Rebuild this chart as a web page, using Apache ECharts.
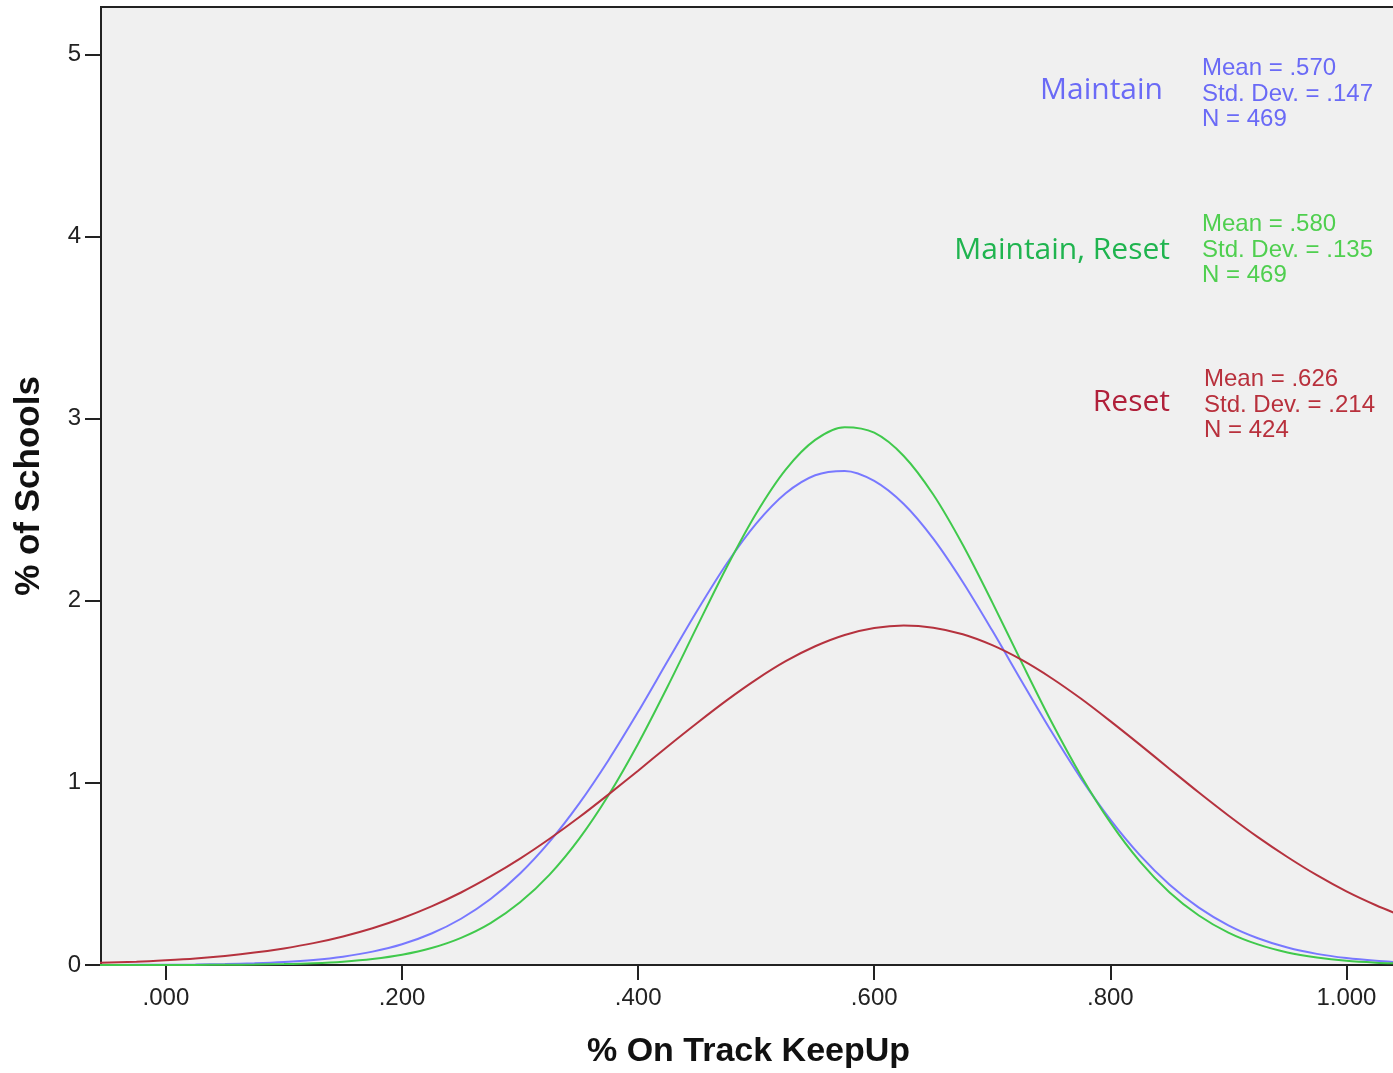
<!DOCTYPE html>
<html>
<head>
<meta charset="utf-8">
<script src="https://cdn.jsdelivr.net/npm/echarts@6/dist/echarts.min.js"></script>
<style>html,body{margin:0;padding:0;background:#fff}#c{width:1393px;height:1073px}</style>
</head>
<body>
<div id="c"></div>
<script>
// x positions (% On Track KeepUp)
var xs = [-0.06, -0.025, 0.00, 0.025, 0.05, 0.075, 0.10, 0.125, 0.15, 0.175, 0.20, 0.225, 0.25, 0.275, 0.30, 0.325, 0.35, 0.375, 0.40, 0.425, 0.45, 0.475, 0.50, 0.525, 0.55, 0.575, 0.60, 0.625, 0.65, 0.675, 0.70, 0.725, 0.75, 0.775, 0.80, 0.825, 0.85, 0.875, 0.90, 0.925, 0.95, 0.975, 1.00, 1.025, 1.05];
// curve heights (% of Schools)
var maintain      = [0.0003, 0.0008, 0.0015, 0.0028, 0.0052, 0.0094, 0.0164, 0.0278, 0.0458, 0.0734, 0.114, 0.173, 0.254, 0.362, 0.502, 0.677, 0.886, 1.126, 1.390, 1.669, 1.945, 2.203, 2.423, 2.590, 2.689, 2.713, 2.658, 2.531, 2.341, 2.103, 1.836, 1.557, 1.283, 1.026, 0.798, 0.603, 0.442, 0.315, 0.218, 0.147, 0.096, 0.061, 0.038, 0.023, 0.013];
var maintainReset = [0.0001, 0.0001, 0.0003, 0.0006, 0.0013, 0.0027, 0.0053, 0.0101, 0.0185, 0.0328, 0.056, 0.093, 0.149, 0.230, 0.344, 0.496, 0.692, 0.933, 1.215, 1.529, 1.859, 2.184, 2.479, 2.720, 2.883, 2.953, 2.923, 2.795, 2.583, 2.307, 1.991, 1.660, 1.337, 1.041, 0.783, 0.569, 0.400, 0.272, 0.178, 0.113, 0.069, 0.041, 0.023, 0.013, 0.007];
var reset         = [0.011, 0.018, 0.026, 0.036, 0.050, 0.068, 0.091, 0.120, 0.157, 0.202, 0.257, 0.322, 0.398, 0.486, 0.584, 0.693, 0.811, 0.937, 1.067, 1.200, 1.329, 1.453, 1.567, 1.668, 1.750, 1.812, 1.850, 1.864, 1.852, 1.816, 1.756, 1.675, 1.576, 1.463, 1.339, 1.210, 1.078, 0.947, 0.821, 0.702, 0.593, 0.493, 0.404, 0.328, 0.262];
var xTicks = [0, 0.2, 0.4, 0.6, 0.8, 1.0];
var xTickLabels = ['.000', '.200', '.400', '.600', '.800', '1.000'];
var yTicks = [0, 1, 2, 3, 4, 5];
var groups = ['Maintain', 'Maintain, Reset', 'Reset'];
var stats = [
  ['Mean = .570', 'Std. Dev. = .147', 'N = 469'],
  ['Mean = .580', 'Std. Dev. = .135', 'N = 469'],
  ['Mean = .626', 'Std. Dev. = .214', 'N = 424']
];

var lineColors = ['#7878ff', '#40c94c', '#b5323e'];
var titleColors = ['#6a6af6', '#1fb44f', '#b0203a'];
var statColors = ['#6a6af6', '#4fcf4f', '#b8303c'];

function pairs(ys) { return xs.map(function (x, i) { return [x, ys[i]]; }); }
var seriesVals = [maintain, maintainReset, reset];

var chart = echarts.init(document.getElementById('c'), null, {renderer: 'canvas'});
var labelPos = [
  {tx: 1163, ty: 90, sx: 1202, sy: 56},
  {tx: 1170, ty: 250, sx: 1202, sy: 212},
  {tx: 1170, ty: 402, sx: 1204, sy: 367}
];
var graphics = [];
groups.forEach(function (g, i) {
  var p = labelPos[i];
  graphics.push({type: 'text', x: p.tx, y: p.ty, z: 100, style: {text: g, fill: titleColors[i], font: '30px "Open Sans", sans-serif', textAlign: 'right', textVerticalAlign: 'middle'}});
  graphics.push({type: 'text', x: p.sx, y: p.sy, z: 100, style: {text: stats[i].join('\n'), fill: statColors[i], font: '24px "Liberation Sans", Arial, sans-serif', lineHeight: 25.5, textAlign: 'left', textVerticalAlign: 'top'}});
});

chart.setOption({
  animation: false,
  backgroundColor: '#ffffff',
  grid: {left: 101, top: 7, right: -3, bottom: 108, outerBoundsMode: 'none', containLabel: false, show: true, backgroundColor: '#f0f0f0', borderColor: '#222', borderWidth: 2},
  xAxis: {
    type: 'value', min: -0.055, max: 1.042,
    name: '% On Track KeepUp', nameLocation: 'middle', nameGap: 70,
    nameTextStyle: {fontSize: 34, fontWeight: 'bold', color: '#111', fontFamily: '"Liberation Sans", Arial, sans-serif'},
    axisLine: {show: true, onZero: false, lineStyle: {color: '#222', width: 2}},
    axisTick: {show: true, customValues: xTicks, length: 15, lineStyle: {color: '#222', width: 2}},
    axisLabel: {customValues: xTicks, margin: 21, fontSize: 24, color: '#222', fontFamily: '"Liberation Sans", Arial, sans-serif',
      formatter: function (v) { var k = xTicks.findIndex(function (t) { return Math.abs(t - v) < 1e-9; }); return k >= 0 ? xTickLabels[k] : ''; }},
    splitLine: {show: false}
  },
  yAxis: {
    type: 'value', min: 0, max: 5.26,
    name: '% of Schools', nameLocation: 'middle', nameGap: 54, nameRotate: 90,
    nameTextStyle: {fontSize: 35, fontWeight: 'bold', color: '#111', fontFamily: '"Liberation Sans", Arial, sans-serif'},
    axisLine: {show: true, onZero: false, lineStyle: {color: '#222', width: 2}},
    axisTick: {show: true, customValues: yTicks, length: 16, lineStyle: {color: '#222', width: 2}},
    axisLabel: {customValues: yTicks, margin: 20, fontSize: 24, color: '#222', fontFamily: '"Liberation Sans", Arial, sans-serif'},
    splitLine: {show: false}
  },
  graphic: graphics,
  series: groups.map(function (g, i) {
    return {name: g, type: 'line', data: pairs(seriesVals[i]), smooth: 0.3, showSymbol: false, symbol: 'none',
      lineStyle: {color: lineColors[i], width: 2}, clip: true, z: 3 + i};
  })
});
</script>
</body>
</html>
